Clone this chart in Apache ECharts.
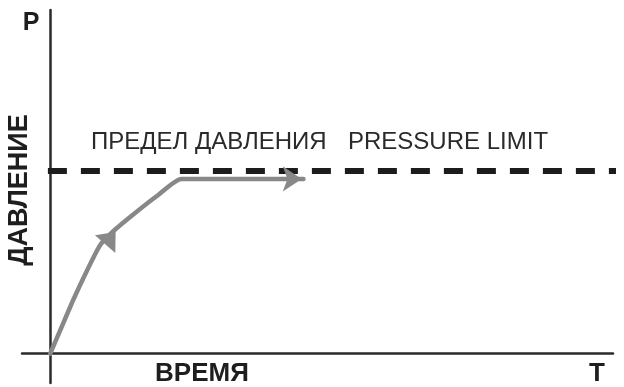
<!DOCTYPE html>
<html>
<head>
<meta charset="utf-8">
<script src="https://cdn.jsdelivr.net/npm/echarts@6/dist/echarts.min.js"></script>
<style>
html,body{margin:0;padding:0;background:#fff;}
#chart{width:624px;height:387px;}
</style>
</head>
<body>
<div id="chart"></div>
<script>
// Data
var curveTime     = [0, 1.8, 4.1, 6.6, 8.9, 11.5, 15.1, 19.2, 23.3, 45.0];
var curvePressure = [0, 12.9, 29.4, 45.8, 59.5, 67.8, 77.0, 86.8, 95.6, 95.6];
var limitTime     = [-0.4, 102];
var pressureLimit = 100;
var arrowTime     = [10.7, 44.7];
var arrowPressure = [63.3, 95.6];
var arrowAngle    = [-41, -90];
var labelLimitRu  = 'ПРЕДЕЛ ДАВЛЕНИЯ';
var labelLimitEn  = 'PRESSURE LIMIT';
var labelY = 'ДАВЛЕНИЕ', labelX = 'ВРЕМЯ', axisP = 'P', axisT = 'T';

var FONT = '"Liberation Sans", Arial, sans-serif';
var chart = echarts.init(document.getElementById('chart'));

var curveData = curveTime.map(function(t, i){ return [t, curvePressure[i]]; });
var limitData = limitTime.map(function(t){ return [t, pressureLimit]; });
var arrowData = arrowTime.map(function(t, i){
  return { value: [t, arrowPressure[i]], symbolRotate: arrowAngle[i],
           symbol: i === 0 ? 'triangle' : 'arrow',
           symbolSize: i === 0 ? [27, 16] : [19, 19] };
});

chart.setOption({
  animation: false,
  backgroundColor: '#fff',
  grid: { left: 22, right: 11, top: 10, bottom: 4 },
  xAxis: {
    type: 'value', min: -5, max: 100,
    axisLine: { show: true, onZero: true, lineStyle: { color: '#2a2a2a', width: 2.5 } },
    axisTick: { show: false }, axisLabel: { show: false }, splitLine: { show: false }
  },
  yAxis: {
    type: 'value', min: -16, max: 188,
    axisLine: { show: true, onZero: true, lineStyle: { color: '#2a2a2a', width: 2.5 } },
    axisTick: { show: false }, axisLabel: { show: false }, splitLine: { show: false }
  },
  series: [
    {
      type: 'line', data: limitData, symbol: 'none', silent: true, clip: false,
      lineStyle: { color: '#1c1c1c', width: 6, type: [19, 14] }, z: 3
    },
    {
      type: 'line', data: curveData, symbol: 'none', smooth: 0.2, silent: true,
      lineStyle: { color: '#888888', width: 4.5, cap: 'round', join: 'round' }, z: 4
    },
    {
      type: 'scatter', data: arrowData, silent: true,
      itemStyle: { color: '#888888', opacity: 1 }, z: 5
    }
  ],
  graphic: [
    { type: 'text', x: 31, y: 23, style: { text: axisP, font: 'bold 25px ' + FONT, fill: '#1e1e1e', textAlign: 'center', textVerticalAlign: 'middle' } },
    { type: 'text', x: 597, y: 374, style: { text: axisT, font: 'bold 26px ' + FONT, fill: '#1e1e1e', textAlign: 'center', textVerticalAlign: 'middle' } },
    { type: 'text', x: 202, y: 374, style: { text: labelX, font: 'bold 26px ' + FONT, fill: '#1e1e1e', textAlign: 'center', textVerticalAlign: 'middle' } },
    { type: 'text', x: 20, y: 190, rotation: Math.PI / 2, style: { text: labelY, font: 'bold 27px ' + FONT, fill: '#1e1e1e', textAlign: 'center', textVerticalAlign: 'middle' } },
    { type: 'text', x: 91, y: 142, style: { text: labelLimitRu, font: '24px ' + FONT, fill: '#2a2a2a', textAlign: 'left', textVerticalAlign: 'middle' } },
    { type: 'text', x: 348, y: 142, style: { text: labelLimitEn, font: '24px ' + FONT, fill: '#2a2a2a', textAlign: 'left', textVerticalAlign: 'middle' } }
  ]
});
</script>
</body>
</html>
